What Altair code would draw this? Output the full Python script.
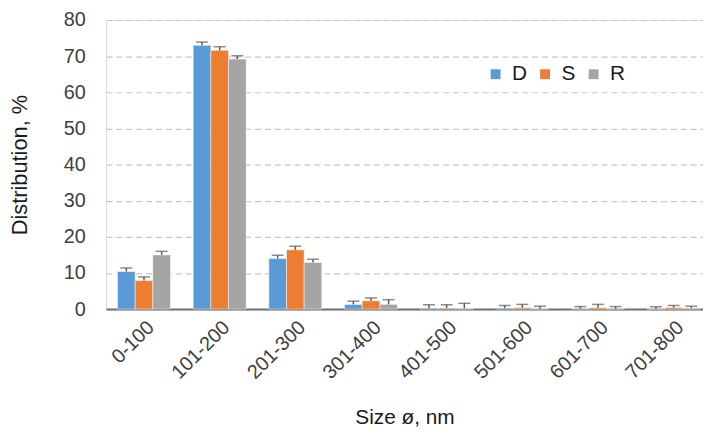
import altair as alt
import pandas as pd

cats = ["0-100", "101-200", "201-300", "301-400", "401-500", "501-600", "601-700", "701-800"]
series = ["D", "S", "R"]
colors = ["#5B9BD5", "#ED7D31", "#A5A5A5"]

D_vals = [10.4, 73.0, 14.0, 1.3, 0.3, 0.3, 0.1, 0.05]
S_vals = [7.9, 71.6, 16.4, 2.3, 0.3, 0.4, 0.4, 0.4]
R_vals = [15.0, 69.2, 12.9, 1.3, 0.2, 0.1, 0.1, 0.3]

D_err = [1.0, 0.9, 0.9, 0.9, 0.9, 0.7, 0.6, 0.6]
S_err = [1.0, 1.0, 1.0, 0.8, 0.9, 0.9, 0.9, 0.6]
R_err = [1.0, 0.9, 0.9, 1.3, 1.4, 0.7, 0.6, 0.5]

y_ticks = list(range(0, 81, 10))

rows = []
for s, vals, errs in zip(series, [D_vals, S_vals, R_vals], [D_err, S_err, R_err]):
    for c, v, e in zip(cats, vals, errs):
        rows.append({"cat": c, "series": s, "value": v, "top": v + e})
df = pd.DataFrame(rows)

FONT = "Liberation Sans"

x = alt.X(
    "cat:N",
    sort=cats,
    scale=alt.Scale(paddingInner=0.3, paddingOuter=0.095, align=0.8),
    axis=alt.Axis(
        title="Size ø, nm",
        labelAngle=-45,
        labelFontSize=20,
        labelColor="#404040",
        labelFont=FONT,
        titleFont=FONT,
        titleFontSize=21,
        titleFontWeight="normal",
        titleColor="#1a1a1a",
        titlePadding=25,
        ticks=False,
        labelPadding=8,
        domainColor="#707070",
        domainWidth=2,
    ),
)
xoff = alt.XOffset("series:N", sort=series, scale=alt.Scale(domain=series))

y_axis = alt.Axis(
    title="Distribution, %",
    values=y_ticks,
    labelFontSize=20,
    labelColor="#404040",
    labelFont=FONT,
    titleFont=FONT,
    titleFontSize=22,
    titleFontWeight="normal",
    titleColor="#1a1a1a",
    titlePadding=32,
    labelPadding=21,
    ticks=False,
    domain=False,
    grid=True,
    gridDash=[6, 4],
    gridColor="#c8c8c8",
    gridWidth=1.2,
    labelOverlap=False,
)
y_scale = alt.Scale(domain=[0, 80], nice=False)


def yenc(field):
    return alt.Y(field, type="quantitative", scale=y_scale, axis=y_axis)


color = alt.Color(
    "series:N",
    sort=series,
    scale=alt.Scale(domain=series, range=colors),
    legend=alt.Legend(
        title=None,
        orient="none",
        legendX=383,
        legendY=44,
        direction="horizontal",
        symbolType="square",
        symbolSize=100,
        symbolStrokeWidth=0,
        labelFontSize=21,
        labelFont=FONT,
        labelColor="#1a1a1a",
        labelOffset=6,
        columnPadding=7,
    ),
)

bars = alt.Chart(df).mark_bar(stroke="white", strokeWidth=0.5).encode(
    x=x, xOffset=xoff, y=yenc("value"), color=color
)
rules = alt.Chart(df).mark_rule(color="#5a5a5a", strokeWidth=1.5).encode(
    x=x, xOffset=xoff, y=yenc("value"), y2="top:Q"
)
caps = alt.Chart(df).mark_tick(
    color="#5a5a5a", size=12, thickness=1.5, orient="horizontal"
).encode(x=x, xOffset=xoff, y=yenc("top"))

chart = (
    alt.layer(bars, rules, caps)
    .properties(width=603, height=292, padding={"left": 0, "top": 0, "right": 0, "bottom": 0})
    .configure_view(stroke=None)
    .configure(font=FONT)
)

chart.save("out.html", embed_options={"renderer": "svg", "actions": False})
